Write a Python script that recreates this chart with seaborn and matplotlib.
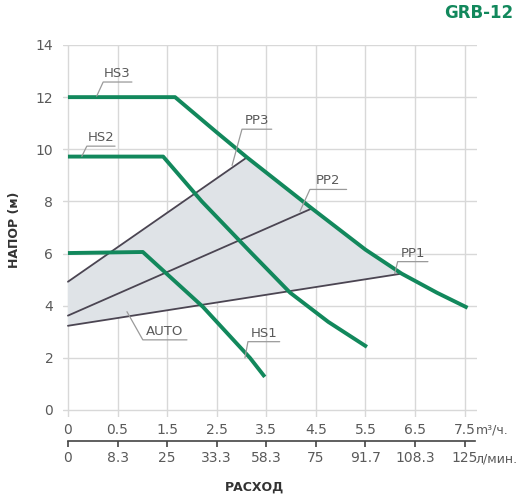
import numpy as np
import pandas as pd
import matplotlib
matplotlib.use("Agg")
import matplotlib.pyplot as plt
import seaborn as sns

# ---------------- data ----------------
pos = list(range(9))
flow_m3h = ["0", "0.5", "1.5", "2.5", "3.5", "4.5", "5.5", "6.5", "7.5"]
flow_lmin = ["0", "8.3", "25", "33.3", "58.3", "75", "91.7", "108.3", "125"]
head_ticks = [0, 2, 4, 6, 8, 10, 12, 14]

hs3_x = [0, 2.16, 3.0, 3.61, 4.92, 6.0, 6.73, 7.44, 8.06]
hs3_y = [12.0, 12.0, 10.65, 9.69, 7.73, 6.15, 5.23, 4.50, 3.92]
hs2_x = [0, 1.92, 2.70, 3.71, 4.48, 5.25, 6.03]
hs2_y = [9.72, 9.72, 8.00, 6.00, 4.50, 3.38, 2.42]
hs1_x = [0, 1.51, 2.72, 3.67, 3.97]
hs1_y = [6.02, 6.06, 3.96, 2.00, 1.27]

pp3_x = [0, 3.61]
pp3_y = [4.92, 9.69]
pp2_x = [0, 4.92]
pp2_y = [3.62, 7.73]
pp1_x = [0, 6.73]
pp1_y = [3.23, 5.23]

# label texts with leader lines: (anchor, kink, end)
labels = ["HS3", "HS2", "PP3", "PP2", "PP1", "HS1", "AUTO"]
lead_x = [[0.58, 0.71, 1.29], [0.28, 0.38, 0.95], [3.31, 3.51, 4.11],
          [4.68, 4.88, 5.62], [6.59, 6.65, 7.26], [3.57, 3.63, 4.27],
          [1.19, 1.51, 2.40]]
lead_y = [[12.04, 12.58, 12.58], [9.73, 10.12, 10.12], [9.38, 10.77, 10.77],
          [7.62, 8.46, 8.46], [5.23, 5.69, 5.69], [2.00, 2.62, 2.62],
          [3.77, 2.69, 2.69]]

# ---------------- style ----------------
sns.set_theme(style="white")
plt.rcParams['font.family'] = ['DejaVu Sans']
GREEN = "#12885c"
PPC = "#4b4552"
GRID = "#d8d8d8"
TXT = "#5a5a5a"

fig = plt.figure(figsize=(5.27, 4.95), dpi=100)
ax = fig.add_axes([63 / 527, (495 - 416.5) / 495, (477 - 63) / 527, (416.5 - 45) / 495])

ax.set_xlim(-0.1, 8.25)
ax.set_ylim(-0.25, 14)
ax.set_xticks(pos)
ax.set_yticks(head_ticks)
ax.grid(True, color=GRID, lw=1)
for s in ax.spines.values():
    s.set_visible(False)
ax.set_xticklabels(flow_m3h)
ax.tick_params(axis='x', length=0, pad=5, labelsize=10, labelcolor=TXT)
ax.tick_params(axis='y', length=0, pad=7, labelsize=10, labelcolor=TXT)

# shaded AUTO region
poly_x = [0, 0] + pp3_x[1:] + hs3_x[4:7] + [pp1_x[0]]
poly_y = [pp1_y[0], pp3_y[0]] + pp3_y[1:] + hs3_y[4:7] + [pp1_y[0]]
ax.fill(poly_x, poly_y, color="#dfe3e7", zorder=1, lw=0)

# proportional pressure lines
for xs, ys in [(pp3_x, pp3_y), (pp2_x, pp2_y), (pp1_x, pp1_y)]:
    sns.lineplot(x=xs, y=ys, ax=ax, color=PPC, lw=1.3, sort=False,
                 estimator=None, zorder=3)

# constant speed curves
df = pd.concat([
    pd.DataFrame({"x": hs3_x, "y": hs3_y, "c": "HS3"}),
    pd.DataFrame({"x": hs2_x, "y": hs2_y, "c": "HS2"}),
    pd.DataFrame({"x": hs1_x, "y": hs1_y, "c": "HS1"}),
])
sns.lineplot(data=df, x="x", y="y", hue="c", units="c", estimator=None,
             sort=False, palette=[GREEN] * 3, lw=2.8, legend=False, ax=ax,
             zorder=4)
for l in ax.lines[-3:]:
    l.set_solid_capstyle('butt')
    l.set_solid_joinstyle('round')

# labels with leader lines
for t, lx, ly in zip(labels, lead_x, lead_y):
    ax.plot(lx, ly, color="#9a9a9a", lw=0.9, zorder=5)
    ax.text((lx[1] + lx[2]) / 2, ly[1] + 0.08, t, ha='center', va='bottom',
            fontsize=9.5, color=TXT, zorder=6)

ax.set_xlabel("")
ax.set_ylabel("")

# secondary flow axis (l/min)
sec = ax.secondary_xaxis(-0.066)
sec.set_xticks(pos)
sec.set_xticklabels(flow_lmin)
sec.tick_params(axis='x', direction='out', length=4.5, width=1.2,
                color="#444444", pad=3, labelsize=10, labelcolor=TXT)
sec.spines['bottom'].set_color("#444444")
sec.spines['bottom'].set_linewidth(1.2)
sec.spines['bottom'].set_bounds(0, 8.2)

trans = matplotlib.transforms.blended_transform_factory(ax.transData, ax.transAxes)
ax.text(8.22, -0.036, "m³/ч.", transform=trans, ha='left', va='center',
        fontsize=9, color=TXT)
ax.text(8.22, -0.114, "л/мин.", transform=trans, ha='left', va='center',
        fontsize=9, color=TXT)

fig.text(255 / 527, (495 - 487) / 495, "РАСХОД", ha='center', va='center',
         fontsize=9, fontweight='bold', color="#333333")
fig.text(15 / 527, (495 - 230) / 495, "НАПОР (м)", ha='center', va='center',
         rotation=90, fontsize=9, fontweight='bold', color="#333333")
fig.text(479 / 527, (495 - 13) / 495, "GRB-12", ha='center', va='center',
         fontsize=12, fontweight='bold', color=GREEN)

fig.savefig("out.png", dpi=100)
